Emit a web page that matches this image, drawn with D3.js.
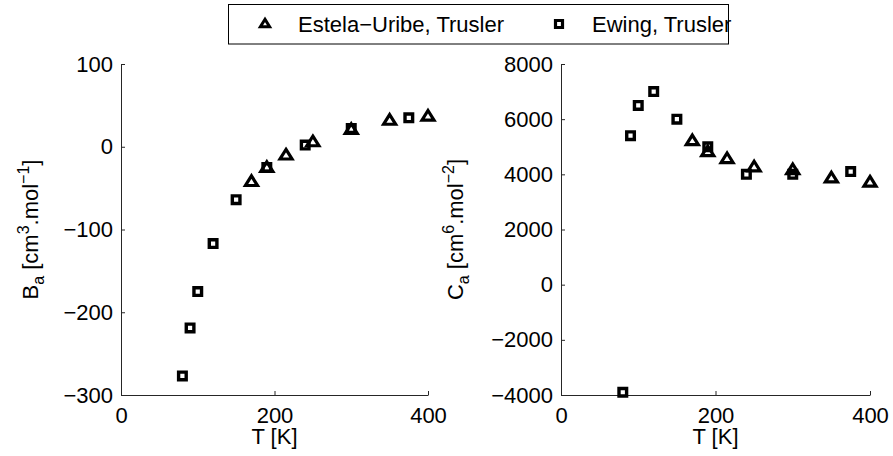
<!DOCTYPE html>
<html>
<head>
<meta charset="utf-8">
<script src="https://cdn.jsdelivr.net/npm/d3@7"></script>
<style>
  html, body { margin: 0; padding: 0; background: #fff; }
  svg { display: block; font-family: "Liberation Sans", Arial, Helvetica, sans-serif; }
</style>
</head>
<body>
<svg id="chart" width="893" height="456"></svg>
<script>
// ---- data ----
const seriesNames = ["Estela\u2212Uribe, Trusler", "Ewing, Trusler"];
const T_EU = [170, 190, 215, 250, 300, 350, 400];
const B_EU = [-41, -24, -9, 7, 22, 33, 38];
const C_EU = [5250, 4850, 4600, 4300, 4200, 3900, 3750];
const T_EW = [80, 90, 100, 120, 150, 190, 240, 300, 375];
const B_EW = [-277, -219, -175, -117, -64, -25, 2, 22, 35];
const C_EW = [-3900, 5400, 6500, 7000, 6000, 5000, 4000, 4000, 4100];
const xTicks = [0, 200, 400];
const yTicksB = [-300, -200, -100, 0, 100];
const yTicksC = [-4000, -2000, 0, 2000, 4000, 6000, 8000];

const svg = d3.select("#chart");
const AX = "#262626";
const FS = 22;

function triPath(hw, hh) {
  return `M0,${-hh}L${hw},${hh}L${-hw},${hh}Z`;
}
function sqPath(h) {
  return `M${-h},${-h}H${h}V${h}H${-h}Z`;
}

function panel(opts) {
  const x = d3.scaleLinear().domain([0, 400]).range(opts.xr);
  const y = d3.scaleLinear().domain(opts.yd).range([395, 64]);
  const g = svg.append("g");

  const xa = g.append("g").attr("transform", `translate(0,${y.range()[0]})`)
    .call(d3.axisBottom(x).tickValues(xTicks).tickSizeInner(-4).tickSizeOuter(0).tickPadding(12).tickFormat(d3.format("d")));
  const ya = g.append("g").attr("transform", `translate(${x.range()[0]},0)`)
    .call(d3.axisLeft(y).tickValues(opts.yt).tickSizeInner(-4).tickSizeOuter(0).tickPadding(8)
      .tickFormat(d => d < 0 ? "\u2212" + Math.abs(d) : String(d)));
  [xa, ya].forEach(a => {
    a.select(".domain").attr("stroke", AX).attr("stroke-width", 1);
    a.selectAll(".tick line").attr("stroke", AX);
    a.selectAll(".tick text").attr("fill", "#000").style("font-size", FS + "px")
      .style("font-family", '"Liberation Sans", Arial, sans-serif');
  });

  // x label
  g.append("text").attr("x", (x.range()[0] + x.range()[1]) / 2).attr("y", 444)
    .attr("text-anchor", "middle").style("font-size", FS + "px").text("T [K]");

  // y label
  const yl = g.append("text")
    .attr("transform", `translate(${opts.ylx},${(64 + 395) / 2}) rotate(-90)`)
    .attr("text-anchor", "middle").style("font-size", FS + "px");
  yl.append("tspan").text(opts.sym);
  yl.append("tspan").attr("dy", 6).style("font-size", "16px").text("a");
  yl.append("tspan").attr("dy", -6).text(" [cm");
  yl.append("tspan").attr("dy", -9).style("font-size", "16px").text(opts.p1);
  yl.append("tspan").attr("dy", 9).text(".mol");
  yl.append("tspan").attr("dy", -9).style("font-size", "16px").text(opts.p2);
  yl.append("tspan").attr("dy", 9).text("]");

  // markers
  g.append("g").selectAll("path").data(T_EW.map((t, i) => [t, opts.ew[i]])).join("path")
    .attr("d", sqPath(3.8))
    .attr("transform", d => `translate(${x(d[0])},${y(d[1])})`)
    .attr("fill", "none").attr("stroke", "#000").attr("stroke-width", 3.4);
  g.append("g").selectAll("path").data(T_EU.map((t, i) => [t, opts.eu[i]])).join("path")
    .attr("d", triPath(6, 4.8))
    .attr("transform", d => `translate(${x(d[0])},${y(d[1])})`)
    .attr("fill", "none").attr("stroke", "#000").attr("stroke-width", 3.2)
    .attr("stroke-linejoin", "miter");
}

panel({ xr: [121, 428], yd: [-300, 100], yt: yTicksB, ew: B_EW, eu: B_EU,
        ylx: 38, sym: "B", p1: "3", p2: "\u22121" });
panel({ xr: [561, 870], yd: [-4000, 8000], yt: yTicksC, ew: C_EW, eu: C_EU,
        ylx: 463, sym: "C", p1: "6", p2: "\u22122" });

// legend
const lg = svg.append("g");
lg.append("rect").attr("x", 228.5).attr("y", 4.5).attr("width", 500).attr("height", 39.5)
  .attr("fill", "#fff").attr("stroke", "#000").attr("stroke-width", 1);
lg.append("path").attr("d", triPath(4.6, 3.7)).attr("transform", "translate(265,23)")
  .attr("fill", "none").attr("stroke", "#000").attr("stroke-width", 3);
lg.append("text").attr("x", 298).attr("y", 31.5).style("font-size", FS + "px").text(seriesNames[0]);
lg.append("path").attr("d", sqPath(3.5)).attr("transform", "translate(559,24)")
  .attr("fill", "none").attr("stroke", "#000").attr("stroke-width", 3.2);
lg.append("text").attr("x", 592).attr("y", 31.5).style("font-size", FS + "px").text(seriesNames[1]);
</script>
</body>
</html>
